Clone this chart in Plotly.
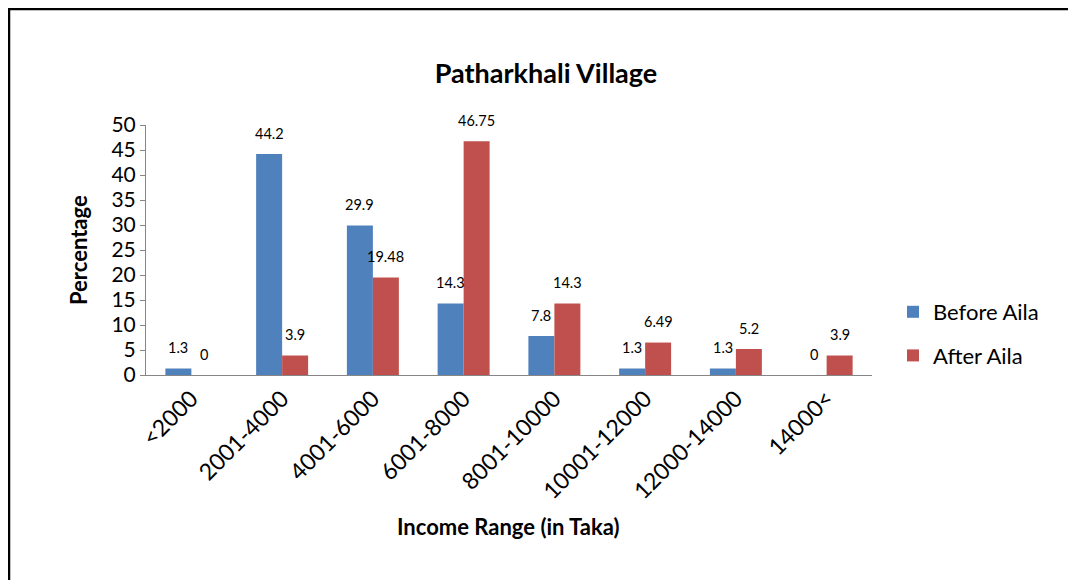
import plotly.graph_objects as go

categories = ["<2000", "2001-4000", "4001-6000", "6001-8000", "8001-10000",
              "10001-12000", "12000-14000", "14000<"]
before_aila = [1.3, 44.2, 29.9, 14.3, 7.8, 1.3, 1.3, 0]
after_aila = [0, 3.9, 19.48, 46.75, 14.3, 6.49, 5.2, 3.9]
before_labels = ["1.3", "44.2", "29.9", "14.3", "7.8", "1.3", "1.3", "0"]
after_labels = ["0", "3.9", "19.48", "46.75", "14.3", "6.49", "5.2", "3.9"]
y_ticks = [0, 5, 10, 15, 20, 25, 30, 35, 40, 45, 50]

BLUE = "#4F81BD"
RED = "#C0504D"
FONT = "Lato, 'Open Sans', sans-serif"

OFF = 8  # page body margin
W, H = 1076 - OFF, 580 - OFF
L = 146 - OFF
T = 125 - OFF
R = W - (872 - OFF)
B = H - (375 - OFF)
PW, PH = W - L - R, H - T - B


def px_x(sx):
    return (sx - OFF - L) / PW


def px_y(sy):
    return (H - B - (sy - OFF)) / PH


fig = go.Figure()
fig.add_trace(go.Bar(x=categories, y=before_aila, name="Before Aila",
                     marker=dict(color=BLUE, line=dict(width=0)),
                     legendgroup="a"))
fig.add_trace(go.Bar(x=categories, y=after_aila, name="After Aila",
                     marker=dict(color=RED, line=dict(width=0)),
                     legendgroup="b"))

annotations = []
for cat, v, lab in zip(categories, before_aila, before_labels):
    annotations.append(dict(x=cat, y=v, text=lab, showarrow=False, xshift=-13,
                            yshift=21, yanchor="middle", xref="x", yref="y",
                            font=dict(family=FONT, size=14.5, color="#000")))
for cat, v, lab in zip(categories, after_aila, after_labels):
    annotations.append(dict(x=cat, y=v, text=lab, showarrow=False, xshift=13,
                            yshift=21, yanchor="middle", xref="x", yref="y",
                            font=dict(family=FONT, size=14.5, color="#000")))

annotations.append(dict(text="<b>Income Range (in Taka)</b>", x=px_x(508), y=px_y(526),
                        xref="paper", yref="paper", showarrow=False,
                        xanchor="center", yanchor="middle",
                        font=dict(family=FONT, size=22, color="#000")))
annotations.append(dict(text="<b>Percentage</b>", x=px_x(78), y=px_y(250),
                        xref="paper", yref="paper", showarrow=False, textangle=-90,
                        xanchor="center", yanchor="middle",
                        font=dict(family=FONT, size=22, color="#000")))

shapes = [
    dict(type="line", xref="paper", yref="paper", x0=px_x(8), x1=px_x(1100),
         y0=px_y(9), y1=px_y(9), line=dict(color="#000", width=2.5)),
    dict(type="line", xref="paper", yref="paper", x0=px_x(9), x1=px_x(9),
         y0=px_y(8), y1=px_y(600), line=dict(color="#000", width=2.5)),
]

fig.update_layout(
    width=W, height=H,
    margin=dict(l=L, r=R, t=T, b=B),
    paper_bgcolor="white", plot_bgcolor="white",
    barmode="group", bargap=0.427, bargroupgap=0,
    title=dict(text="<b>Patharkhali Village</b>", x=(546 - OFF) / W, xanchor="center",
               y=1 - (74 - OFF) / H, yanchor="middle",
               font=dict(family=FONT, size=27, color="#000")),
    font=dict(family=FONT, color="#000"),
    showlegend=True,
    legend=dict(x=px_x(893), y=px_y(291), xanchor="left", yanchor="top",
                font=dict(family=FONT, size=22, color="#000"),
                tracegroupgap=12, itemwidth=30, bgcolor="rgba(0,0,0,0)"),
    annotations=annotations,
    shapes=shapes,
    xaxis=dict(type="category", tickangle=-45, showline=True, linecolor="#868686",
               linewidth=1, ticks="", showgrid=False,
               tickfont=dict(family=FONT, size=23, color="#000")),
    yaxis=dict(range=[0, 50], tickvals=y_ticks, showline=True, linecolor="#868686",
               linewidth=1, ticks="outside", ticklen=5, tickcolor="#868686",
               showgrid=False, zeroline=False,
               tickfont=dict(family=FONT, size=21, color="#000")),
)

fig.write_html("out.html")
